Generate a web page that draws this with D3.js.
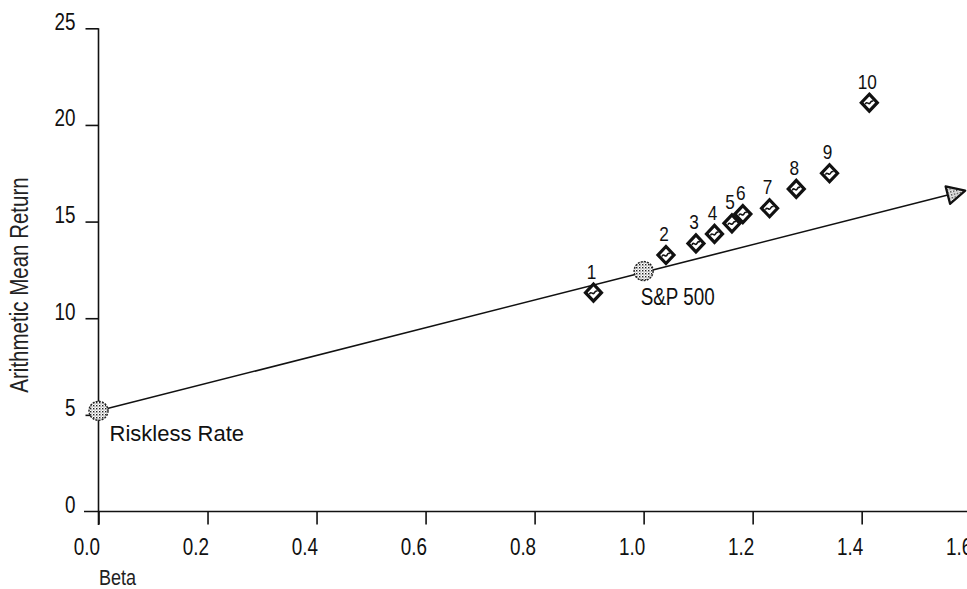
<!DOCTYPE html>
<html>
<head>
<meta charset="utf-8">
<script src="https://cdn.jsdelivr.net/npm/d3@7"></script>
<style>
  html, body { margin: 0; padding: 0; background: #fff; }
  svg { display: block; }
  text { font-family: "Liberation Sans", Arial, sans-serif; }
</style>
</head>
<body>
<svg id="chart" width="967" height="589"></svg>
<script>
// ---- data ----
const portfolioLabels = ["1","2","3","4","5","6","7","8","9","10"];
const portfolioBeta   = [0.908, 1.041, 1.096, 1.130, 1.162, 1.182, 1.231, 1.280, 1.341, 1.414];
const portfolioReturn = [11.32, 13.27, 13.87, 14.36, 14.91, 15.39, 15.69, 16.69, 17.50, 21.15];
const risklessPoint = {label: "Riskless Rate", beta: 0.0, ret: 5.21};
const marketPoint   = {label: "S&P 500", beta: 1.0, ret: 12.44};
const smlEnd        = {beta: 1.59, ret: 16.6};
const xTickValues = [0.0, 0.2, 0.4, 0.6, 0.8, 1.0, 1.2, 1.4, 1.6];
const xTickLabels = ["0.0","0.2","0.4","0.6","0.8","1.0","1.2","1.4","1.6"];
const yTickValues = [0, 5, 10, 15, 20, 25];
const yTickLabels = ["0","5","10","15","20","25"];
const xTitle = "Beta";
const yTitle = "Arithmetic Mean Return";

const NARROW = 0.82;
function place(sel, tx, ty, extra) {
  sel.attr("x", 0).attr("y", 0).attr("dy", 0)
     .attr("transform", `translate(${tx},${ty})${extra || ""} scale(${NARROW},1)`);
  return sel;
}

// ---- scales ----
const svg = d3.select("#chart");
const x = d3.scaleLinear().domain([0, 1.6]).range([98.5, 970.7]);
const y = d3.scaleLinear().domain([0, 25]).range([511.5, 28.3]);

// patterns
const defs = svg.append("defs");
const pat = defs.append("pattern").attr("id", "stipple")
  .attr("width", 3).attr("height", 3).attr("patternUnits", "userSpaceOnUse");
pat.append("rect").attr("width", 3).attr("height", 3).attr("fill", "#fff");
pat.append("rect").attr("x", 0).attr("y", 0).attr("width", 1.4).attr("height", 1.4).attr("fill", "#222");
pat.append("rect").attr("x", 1.5).attr("y", 1.5).attr("width", 1).attr("height", 1).attr("fill", "#666");

// ---- axes ----
const xAxisG = svg.append("g").attr("transform", `translate(0,${y(0)})`);
xAxisG.call(d3.axisBottom(x).tickValues(xTickValues).tickSize(13).tickSizeOuter(0)
  .tickFormat((d, i) => xTickLabels[i]));
xAxisG.select(".domain").remove();
xAxisG.append("line").attr("x1", 84).attr("x2", 967).attr("y1", 0).attr("y2", 0)
  .attr("stroke", "#111").attr("stroke-width", 1.6);
xAxisG.selectAll(".tick line").attr("stroke", "#111").attr("stroke-width", 1.6);
xAxisG.selectAll(".tick text")
  .attr("font-size", 23).attr("fill", "#111").attr("text-anchor", "end")
  .call(s => place(s, 1, 43));

const yAxisG = svg.append("g").attr("transform", `translate(${x(0)},0)`);
yAxisG.call(d3.axisLeft(y).tickValues(yTickValues).tickSize(13).tickSizeOuter(0)
  .tickFormat((d, i) => yTickLabels[i]));
yAxisG.select(".domain").remove();
yAxisG.append("line").attr("x1", 0).attr("x2", 0).attr("y1", y(25)).attr("y2", 525)
  .attr("stroke", "#111").attr("stroke-width", 1.6);
yAxisG.selectAll(".tick line").attr("stroke", "#111").attr("stroke-width", 1.6);
yAxisG.selectAll(".tick text")
  .attr("font-size", 23).attr("fill", "#111").attr("text-anchor", "end")
  .call(s => place(s, -23, 1));
yAxisG.selectAll(".tick").filter(d => d === 0).select("line").remove();

// titles
svg.append("text").attr("font-size", 22).attr("fill", "#222")
  .call(s => place(s, 99, 585)).text(xTitle);
svg.append("text").attr("font-size", 25).attr("fill", "#222")
  .attr("text-anchor", "middle")
  .call(s => place(s, 28, 285, " rotate(-90)")).text(yTitle);

// ---- security market line ----
const sx0 = x(risklessPoint.beta), sy0 = y(risklessPoint.ret);
const sx1 = x(smlEnd.beta), sy1 = y(smlEnd.ret);
const ang = Math.atan2(sy1 - sy0, sx1 - sx0);
const headLen = 18;
svg.append("line")
  .attr("x1", sx0).attr("y1", sy0)
  .attr("x2", sx1 - headLen * Math.cos(ang)).attr("y2", sy1 - headLen * Math.sin(ang))
  .attr("stroke", "#111").attr("stroke-width", 1.6);
svg.append("path")
  .attr("d", "M0,0 L-18,-9 L-18,9 Z")
  .attr("transform", `translate(${sx1},${sy1}) rotate(${ang * 180 / Math.PI})`)
  .attr("fill", "url(#stipple)").attr("stroke", "#111").attr("stroke-width", 2.2).attr("stroke-linejoin", "round");

// ---- circles ----
[risklessPoint, marketPoint].forEach(p => {
  svg.append("circle").attr("cx", x(p.beta)).attr("cy", y(p.ret)).attr("r", 9.5)
    .attr("fill", "url(#stipple)").attr("stroke", "#222").attr("stroke-width", 1.4)
    .attr("stroke-dasharray", "2,1.2");
});
svg.append("text").attr("font-size", 22).attr("fill", "#111")
  .attr("x", x(risklessPoint.beta) + 11).attr("y", y(risklessPoint.ret) + 30)
  .text(risklessPoint.label);
svg.append("text").attr("font-size", 23).attr("fill", "#111")
  .call(s => place(s, x(marketPoint.beta) - 3, y(marketPoint.ret) + 34))
  .text(marketPoint.label);

// ---- diamonds ----
const pts = portfolioLabels.map((l, i) => ({label: l, beta: portfolioBeta[i], ret: portfolioReturn[i]}));
const g = svg.append("g").selectAll("g").data(pts).join("g")
  .attr("transform", d => `translate(${x(d.beta)},${y(d.ret)})`);
g.append("path").attr("d", "M0,-8.5 L8,0 L0,8.5 L-8,0 Z")
  .attr("fill", "#fff").attr("stroke", "#111").attr("stroke-width", 3.2).attr("stroke-linejoin", "miter");
g.append("path").attr("d", "M-4,1.5 C-2.5,-2.5 -0.5,3 1,0 C2,-2 3,-2 4,-1.5")
  .attr("fill", "none").attr("stroke", "#111").attr("stroke-width", 1.6);
g.append("text").attr("font-size", 21).attr("fill", "#111")
  .attr("text-anchor", "middle")
  .call(s => place(s, -2, -14))
  .text(d => d.label);
</script>
</body>
</html>
